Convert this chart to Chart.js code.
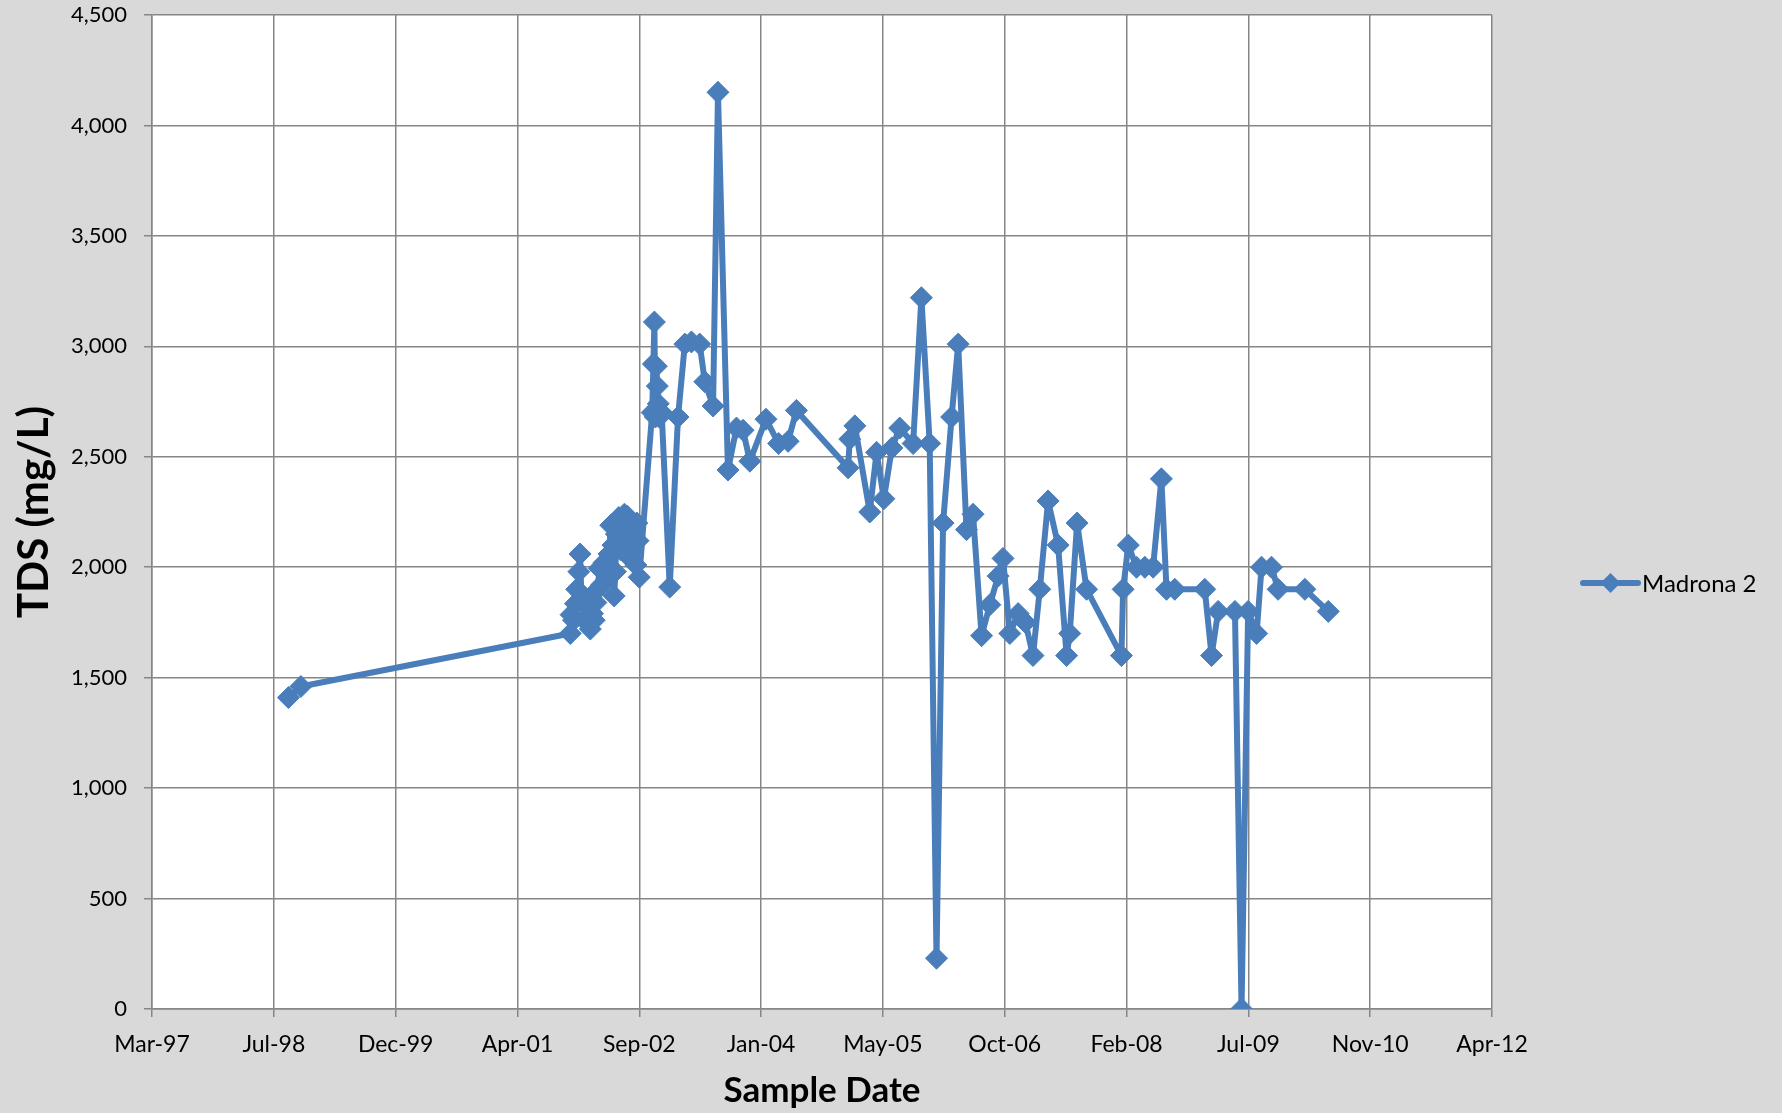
<!DOCTYPE html>
<html lang="en">
<head>
<meta charset="UTF-8">
<title>Madrona 2 TDS</title>
<script src="https://cdn.jsdelivr.net/npm/chart.js"></script>
<style>
  html, body { margin: 0; padding: 0; background: #d9d9d9; }
  canvas { display: block; }
</style>
</head>
<body>
<canvas id="tdsChart" width="1782" height="1113"></canvas>
<script>
// sample dates as Excel day serials (1 = 1900-01-01)
const sampleDays = [
  36060, 36111,
  37217, 37220, 37230, 37238, 37243, 37252, 37257, 37262, 37271, 37280,
  37290, 37299, 37308, 37315, 37322, 37330, 37336, 37345, 37355, 37360,
  37369, 37376, 37383, 37392, 37397, 37402, 37406, 37416, 37422, 37430,
  37439, 37448, 37452, 37458, 37467, 37472, 37476, 37486, 37490, 37495,
  37500,
  37553, 37558, 37562, 37566, 37570, 37574, 37578, 37582, 37592, 37625,
  37659, 37687, 37714, 37748, 37769, 37803, 37823, 37864, 37899, 37926,
  37954, 38020, 38072, 38111, 38145, 38357, 38364, 38385, 38446, 38474,
  38504, 38537, 38569, 38624, 38658, 38692, 38720, 38747, 38782, 38809,
  38843, 38870, 38905, 38939, 38973, 38993, 39021, 39055, 39085, 39116,
  39144, 39178, 39219, 39254, 39267, 39297, 39336, 39479, 39486, 39507,
  39541, 39575, 39609, 39643, 39664, 39698, 39821, 39849, 39876, 39945,
  39972, 39999, 40034, 40054, 40095, 40122, 40232, 40328
];
const tdsValues = [
  1410, 1460,
  1700, 1785, 1760, 1835, 1900, 1980, 2060, 1880, 1765, 1850,
  1815, 1720, 1790, 1760, 1840, 1900, 1995, 1920, 2020, 1980,
  1945, 2060, 2190, 2100, 1870, 1980, 2150, 2225, 2080, 2125,
  2240, 2150, 2230, 2045, 2190, 2050, 2100, 2010, 2200, 2120,
  1955,
  2700, 2920, 3110, 2680, 2910, 2820, 2740, 2680, 2700, 1910,
  2680, 3010, 3020, 3010, 2840, 2730, 4150, 2440, 2630, 2620,
  2480, 2670, 2560, 2570, 2710, 2450, 2580, 2640, 2250, 2520,
  2310, 2540, 2630, 2560, 3220, 2560, 230, 2200, 2680, 3010,
  2170, 2240, 1690, 1830, 1960, 2040, 1700, 1790, 1750, 1600,
  1900, 2300, 2100, 1600, 1700, 2200, 1900, 1600, 1900, 2100,
  2000, 2000, 2000, 2400, 1900, 1900, 1900, 1600, 1800, 1800,
  0, 1800, 1700, 2000, 2000, 1900, 1900, 1800
];
const seriesName = 'Madrona 2';
const xMin = 35500, xMax = 41000, xStep = 500;
const yMin = 0, yMax = 4500, yStep = 500;
const monthNames = ['Jan','Feb','Mar','Apr','May','Jun','Jul','Aug','Sep','Oct','Nov','Dec'];

const lineColor = '#4a7ebb';
const gridColor = '#868686';
const fontFamily = 'Lato, "Open Sans", sans-serif';

function serialLabel(serial) {
  const d = new Date(Date.UTC(1899, 11, 30) + serial * 86400000);
  return monthNames[d.getUTCMonth()] + '-' + String(d.getUTCFullYear() % 100).padStart(2, '0');
}

const points = sampleDays.map((day, i) => ({ x: day, y: tdsValues[i] }));

// grey page + white plot area
const backgroundPlugin = {
  id: 'backgroundPlugin',
  beforeDraw: (chart) => {
    const ctx = chart.ctx;
    const a = chart.chartArea;
    ctx.save();
    ctx.fillStyle = '#d9d9d9';
    ctx.fillRect(0, 0, chart.width, chart.height);
    ctx.fillStyle = '#ffffff';
    ctx.fillRect(a.left, a.top, a.right - a.left, a.bottom - a.top);
    ctx.restore();
  }
};

// Excel style legend: line with a diamond, then the name
const sideLegend = {
  id: 'sideLegend',
  afterDraw: (chart) => {
    const ctx = chart.ctx;
    const ds = chart.data.datasets[0];
    const y = 583, x0 = 1583, x1 = 1638, r = 10;
    const xm = (x0 + x1) / 2;
    ctx.save();
    ctx.strokeStyle = ds.borderColor;
    ctx.lineWidth = ds.borderWidth;
    ctx.lineCap = 'round';
    ctx.beginPath();
    ctx.moveTo(x0, y);
    ctx.lineTo(x1, y);
    ctx.stroke();
    ctx.fillStyle = ds.pointBackgroundColor;
    ctx.beginPath();
    ctx.moveTo(xm - r, y);
    ctx.lineTo(xm, y - r);
    ctx.lineTo(xm + r, y);
    ctx.lineTo(xm, y + r);
    ctx.closePath();
    ctx.fill();
    ctx.fillStyle = '#000';
    ctx.font = '24px ' + fontFamily;
    ctx.textBaseline = 'middle';
    ctx.textAlign = 'left';
    ctx.fillText(ds.label, 1642, y + 1);
    ctx.restore();
  }
};

new Chart(document.getElementById('tdsChart').getContext('2d'), {
  type: 'line',
  data: {
    datasets: [{
      label: seriesName,
      data: points,
      borderColor: lineColor,
      backgroundColor: lineColor,
      pointBackgroundColor: lineColor,
      pointBorderColor: lineColor,
      borderWidth: 6,
      borderJoinStyle: 'round',
      borderCapStyle: 'round',
      pointStyle: 'rectRot',
      pointRadius: 11,
      pointBorderWidth: 1,
      tension: 0,
      fill: false
    }]
  },
  options: {
    responsive: false,
    animation: false,
    events: [],
    layout: { padding: { top: 15, right: 290, left: 0, bottom: 0 } },
    plugins: { legend: { display: false }, tooltip: { enabled: false } },
    scales: {
      x: {
        type: 'linear',
        min: xMin,
        max: xMax,
        afterFit: (scale) => {
          scale.height = 104;
          scale.paddingLeft = 0;
          scale.paddingRight = 0;
        },
        ticks: {
          stepSize: xStep,
          autoSkip: false,
          maxRotation: 0,
          padding: 14,
          color: '#000',
          font: { family: fontFamily, size: 23 },
          callback: (v) => serialLabel(v)
        },
        grid: { color: gridColor, lineWidth: 1.5, tickLength: 8, tickColor: gridColor },
        border: { color: gridColor, width: 1.5 },
        title: {
          display: true,
          text: 'Sample Date',
          color: '#000',
          font: { family: fontFamily, size: 35, weight: 'bold' },
          padding: { top: 0, bottom: 1 }
        }
      },
      y: {
        min: yMin,
        max: yMax,
        afterFit: (scale) => {
          scale.width = 152;
          scale.paddingTop = 0;
          scale.paddingBottom = 0;
        },
        ticks: {
          stepSize: yStep,
          padding: 17,
          color: '#000',
          font: { family: fontFamily, size: 22 },
          callback: (v) => v.toLocaleString('en-US')
        },
        grid: { color: gridColor, lineWidth: 1.5, tickLength: 8, tickColor: gridColor },
        border: { color: gridColor, width: 1.5 },
        title: {
          display: true,
          text: 'TDS (mg/L)',
          color: '#000',
          font: { family: fontFamily, size: 42, weight: 'bold' },
          padding: { top: 9, bottom: 0 }
        }
      }
    }
  },
  plugins: [backgroundPlugin, sideLegend]
});
</script>
</body>
</html>
